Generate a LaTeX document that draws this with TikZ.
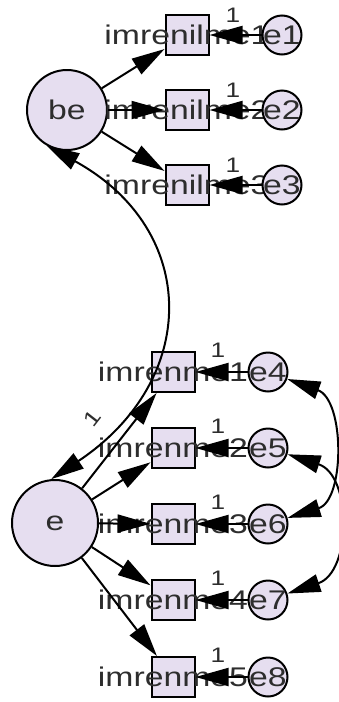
\documentclass[tikz,border=0pt]{standalone}
\usepackage{fontspec}
\setmainfont{Liberation Sans}[FakeStretch=1.25]
\usetikzlibrary{arrows.meta}
\definecolor{boxfill}{RGB}{230,222,240}
\definecolor{txt}{RGB}{45,45,45}
\begin{document}
\begin{tikzpicture}[x=1pt,y=-1pt,
  obs/.style={draw, line width=2pt, fill=boxfill, minimum width=43pt, minimum height=40pt, inner sep=0},
  lat/.style={draw, circle, line width=2pt, fill=boxfill, inner sep=0},
  err/.style={draw, circle, line width=2pt, fill=boxfill, minimum size=39pt, inner sep=0},
  lbl/.style={font=\fontsize{27}{27}\selectfont, text=txt, inner sep=0},
  one/.style={font=\fontsize{21}{21}\selectfont, text=txt, inner sep=0},
  arr/.style={-{Triangle[length=33pt,width=18pt]}, line width=2pt},
  cov/.style={{Triangle[length=33pt,width=18pt]}-{Triangle[length=33pt,width=18pt]}, line width=2pt}]
\useasboundingbox (0,0) rectangle (339,702);
% latent variables
\node[lat, minimum size=80pt] (be) at (67,110) {};
\node[lat, minimum size=86pt] (e) at (55,523) {};
\node[lbl] at (be) {be};
\node[lbl] at (e) {e};
% observed boxes
\node[obs] (b1) at (187,35) {};
\node[obs] (b2) at (187,110) {};
\node[obs] (b3) at (187,185) {};
\node[obs] (b4) at (173,372) {};
\node[obs] (b5) at (173,448) {};
\node[obs] (b6) at (173,524) {};
\node[obs] (b7) at (173,600) {};
\node[obs] (b8) at (173,677) {};
\node[lbl] at (b1) {imrenilme1};
\node[lbl] at (b2) {imrenilme2};
\node[lbl] at (b3) {imrenilme3};
\node[lbl] at (b4) {imrenme1};
\node[lbl] at (b5) {imrenme2};
\node[lbl] at (b6) {imrenme3};
\node[lbl] at (b7) {imrenme4};
\node[lbl] at (b8) {imrenme5};
% error terms
\node[err] (e1) at (282,35) {};
\node[err] (e2) at (282,110) {};
\node[err] (e3) at (282,185) {};
\node[err] (e4) at (268,372) {};
\node[err] (e5) at (268,448) {};
\node[err] (e6) at (268,524) {};
\node[err] (e7) at (268,600) {};
\node[err] (e8) at (268,677) {};
\foreach \k in {1,...,8}{\node[lbl] at (e\k) {e\k};}
% loadings
\foreach \k in {1,2,3}{\draw[arr] (be) -- (b\k);}
\foreach \k in {4,...,8}{\draw[arr] (e) -- (b\k);}
% error paths
\foreach \k in {1,...,8}{\draw[arr] (e\k) -- (b\k);}
% fixed-1 labels
\node[one] at (233,15) {1};
\node[one] at (233,90) {1};
\node[one] at (233,165) {1};
\node[one] at (218,350) {1};
\node[one] at (218,426) {1};
\node[one] at (218,502) {1};
\node[one] at (218,578) {1};
\node[one] at (218,655) {1};
\node[one, rotate=52] at (92,418) {1};
% covariances
\draw[cov] (be.-120) .. controls (200,230) and (200,380) .. (e.95);
\draw[cov] (e4) .. controls (345,400) and (345,500) .. (e6);
\draw[cov] (e5) .. controls (352,475) and (352,572) .. (e7);
\end{tikzpicture}
\end{document}
